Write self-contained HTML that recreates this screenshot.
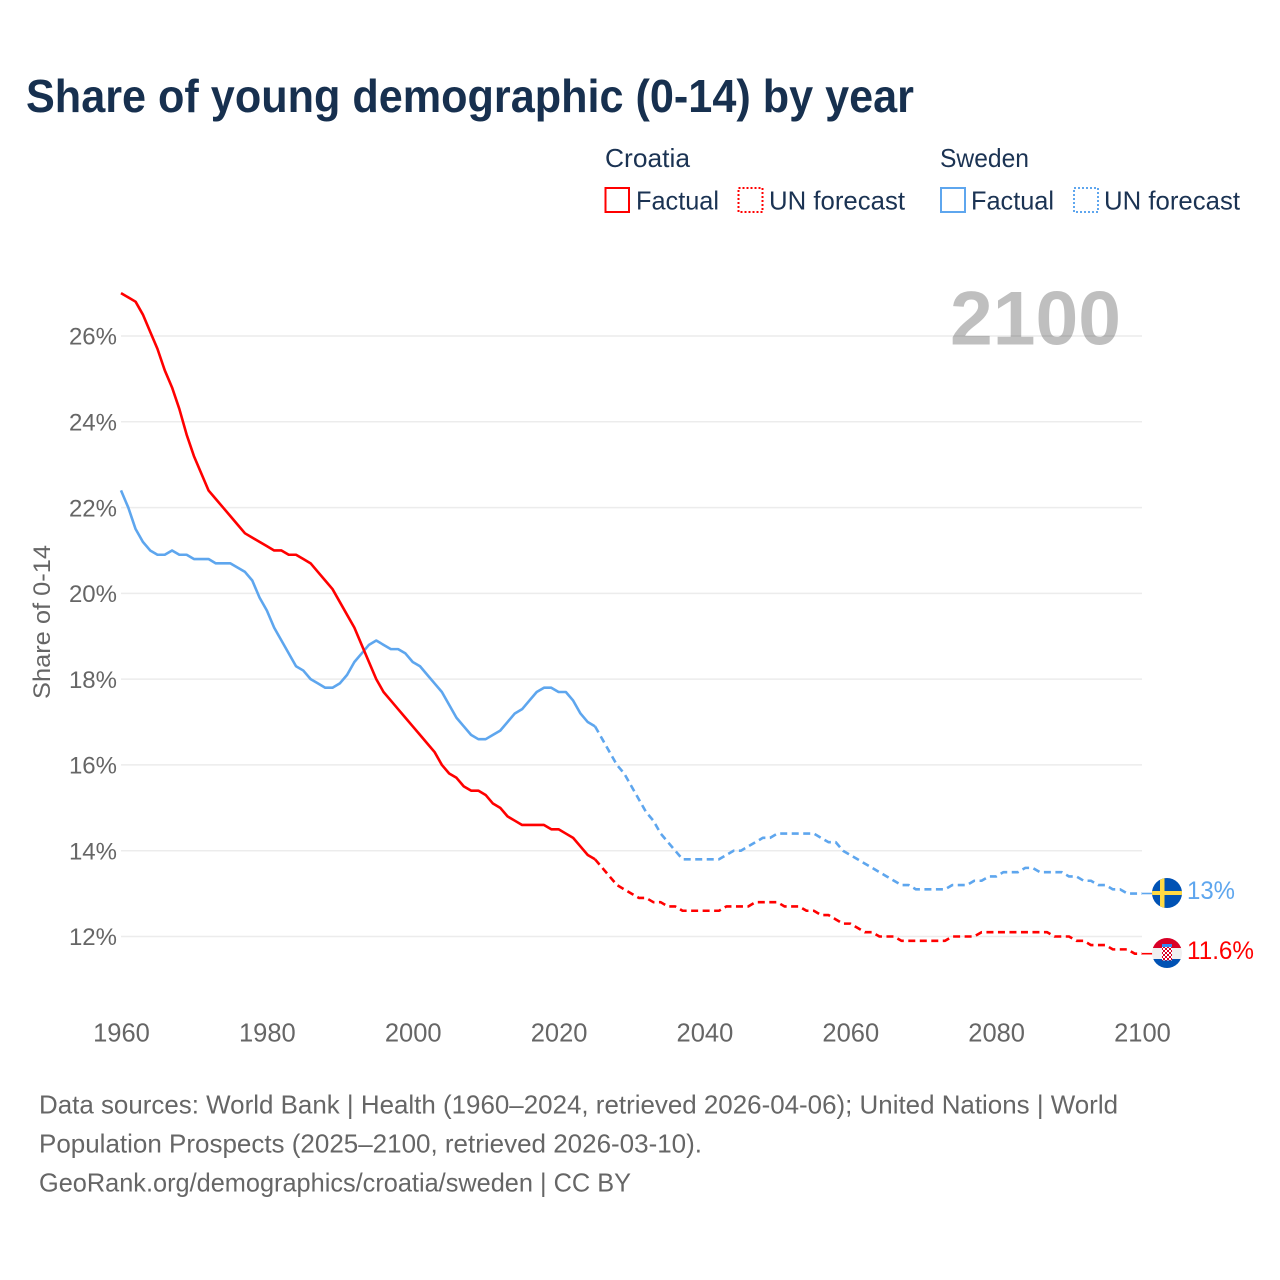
<!DOCTYPE html>
<html lang="en">
<head>
<meta charset="utf-8">
<title>Share of young demographic (0-14) by year</title>
<style>
html,body{margin:0;padding:0;background:#fff;}
svg{display:block;font-family:"Liberation Sans",sans-serif;}
</style>
</head>
<body>
<svg id="chart" xmlns="http://www.w3.org/2000/svg" width="1280" height="1280" viewBox="0 0 1280 1280">
  <defs>
    <clipPath id="flag-clip-se"><circle cx="1167" cy="893" r="15"/></clipPath>
    <clipPath id="flag-clip-hr"><circle cx="1167" cy="953" r="15"/></clipPath>
    <pattern id="checker" width="4" height="4" patternUnits="userSpaceOnUse" x="1163" y="946">
      <rect width="4" height="4" fill="#fff"/>
      <rect width="2" height="2" fill="#d80027"/>
      <rect x="2" y="2" width="2" height="2" fill="#d80027"/>
    </pattern>
  </defs>
  <rect width="1280" height="1280" fill="#fff"/>
  <text x="26" y="112" font-size="46" font-weight="700" fill="#17304f" textLength="888" lengthAdjust="spacingAndGlyphs">Share of young demographic (0-14) by year</text>

  <g font-size="26" fill="#1b3353">
    <text x="605" y="167" textLength="85" lengthAdjust="spacingAndGlyphs">Croatia</text>
    <text x="940" y="167" textLength="89" lengthAdjust="spacingAndGlyphs">Sweden</text>
    <rect x="605.5" y="188" width="23.5" height="24" fill="none" stroke="#ff0000" stroke-width="2"/>
    <text x="636" y="209.5" textLength="83" lengthAdjust="spacingAndGlyphs">Factual</text>
    <rect x="738.5" y="188" width="24" height="24" fill="none" stroke="#ff0000" stroke-width="2" stroke-dasharray="2 2"/>
    <text x="769" y="209.5" textLength="136" lengthAdjust="spacingAndGlyphs">UN forecast</text>
    <rect x="941" y="188" width="24" height="24" fill="none" stroke="#5ea6ee" stroke-width="2"/>
    <text x="971" y="209.5" textLength="83" lengthAdjust="spacingAndGlyphs">Factual</text>
    <rect x="1074" y="188" width="24" height="24" fill="none" stroke="#5ea6ee" stroke-width="2" stroke-dasharray="2 2"/>
    <text x="1104" y="209.5" textLength="136" lengthAdjust="spacingAndGlyphs">UN forecast</text>
  </g>

  <g id="grid"></g>
  <text x="950" y="344.5" font-size="76" font-weight="700" fill="#000" fill-opacity="0.25" textLength="171" lengthAdjust="spacingAndGlyphs">2100</text>
  <g id="y-ticks"></g>
  <g id="x-ticks"></g>
  <text transform="translate(50,622) rotate(-90)" text-anchor="middle" font-size="24" fill="#666" textLength="154" lengthAdjust="spacingAndGlyphs">Share of 0-14</text>
  <g id="series"></g>

  <line x1="1142" y1="893.5" x2="1153" y2="893.5" stroke="#5ea6ee" stroke-width="1.6"/>
  <line x1="1142" y1="953.7" x2="1153" y2="953.7" stroke="#ff0000" stroke-width="1.6"/>

  <g clip-path="url(#flag-clip-se)">
    <rect x="1152" y="878" width="30" height="30" fill="#0052b4"/>
    <rect x="1160" y="878" width="4.5" height="30" fill="#ffda44"/>
    <rect x="1152" y="891" width="30" height="4" fill="#ffda44"/>
  </g>
  <g clip-path="url(#flag-clip-hr)">
    <rect x="1152" y="938" width="30" height="10" fill="#d80027"/>
    <rect x="1152" y="948" width="30" height="11" fill="#f0f0f0"/>
    <rect x="1152" y="959" width="30" height="9" fill="#0052b4"/>
    <rect x="1162" y="944" width="10" height="3" fill="#338af3"/>
    <rect x="1162" y="947" width="10" height="13.5" fill="url(#checker)"/>
  </g>
  <text x="1187" y="899" font-size="25" fill="#5ea6ee" textLength="48" lengthAdjust="spacingAndGlyphs">13%</text>
  <text x="1187" y="959" font-size="25" fill="#ff0000" textLength="67" lengthAdjust="spacingAndGlyphs">11.6%</text>

  <g font-size="26" fill="#666">
    <text x="39" y="1113.5" textLength="1079" lengthAdjust="spacingAndGlyphs">Data sources: World Bank | Health (1960–2024, retrieved 2026-04-06); United Nations | World</text>
    <text x="39" y="1152.5" textLength="663" lengthAdjust="spacingAndGlyphs">Population Prospects (2025–2100, retrieved 2026-03-10).</text>
    <text x="39" y="1191.5" textLength="592" lengthAdjust="spacingAndGlyphs">GeoRank.org/demographics/croatia/sweden | CC BY</text>
  </g>
</svg>
<script>
const yTickValues = [12, 14, 16, 18, 20, 22, 24, 26];
const xTickYears = [1960, 1980, 2000, 2020, 2040, 2060, 2080, 2100];
const factualStartYear = 1960;
const forecastStartYear = 2025;
const croatiaFactual = [27.0,26.9,26.8,26.5,26.1,25.7,25.2,24.8,24.3,23.7,23.2,22.8,22.4,22.2,22.0,21.8,21.6,21.4,21.3,21.2,21.1,21.0,21.0,20.9,20.9,20.8,20.7,20.5,20.3,20.1,19.8,19.5,19.2,18.8,18.4,18.0,17.7,17.5,17.3,17.1,16.9,16.7,16.5,16.3,16.0,15.8,15.7,15.5,15.4,15.4,15.3,15.1,15.0,14.8,14.7,14.6,14.6,14.6,14.6,14.5,14.5,14.4,14.3,14.1,13.9,13.8];
const croatiaForecast = [13.8,13.6,13.4,13.2,13.1,13.0,12.9,12.9,12.8,12.8,12.7,12.7,12.6,12.6,12.6,12.6,12.6,12.6,12.7,12.7,12.7,12.7,12.8,12.8,12.8,12.8,12.7,12.7,12.7,12.6,12.6,12.5,12.5,12.4,12.3,12.3,12.2,12.1,12.1,12.0,12.0,12.0,11.9,11.9,11.9,11.9,11.9,11.9,11.9,12.0,12.0,12.0,12.0,12.1,12.1,12.1,12.1,12.1,12.1,12.1,12.1,12.1,12.1,12.0,12.0,12.0,11.9,11.9,11.8,11.8,11.8,11.7,11.7,11.7,11.6,11.6];
const swedenFactual = [22.4,22.0,21.5,21.2,21.0,20.9,20.9,21.0,20.9,20.9,20.8,20.8,20.8,20.7,20.7,20.7,20.6,20.5,20.3,19.9,19.6,19.2,18.9,18.6,18.3,18.2,18.0,17.9,17.8,17.8,17.9,18.1,18.4,18.6,18.8,18.9,18.8,18.7,18.7,18.6,18.4,18.3,18.1,17.9,17.7,17.4,17.1,16.9,16.7,16.6,16.6,16.7,16.8,17.0,17.2,17.3,17.5,17.7,17.8,17.8,17.7,17.7,17.5,17.2,17.0,16.9];
const swedenForecast = [16.9,16.6,16.3,16.0,15.8,15.5,15.2,14.9,14.7,14.4,14.2,14.0,13.8,13.8,13.8,13.8,13.8,13.8,13.9,14.0,14.0,14.1,14.2,14.3,14.3,14.4,14.4,14.4,14.4,14.4,14.4,14.3,14.2,14.2,14.0,13.9,13.8,13.7,13.6,13.5,13.4,13.3,13.2,13.2,13.1,13.1,13.1,13.1,13.1,13.2,13.2,13.2,13.3,13.3,13.4,13.4,13.5,13.5,13.5,13.6,13.6,13.5,13.5,13.5,13.5,13.4,13.4,13.3,13.3,13.2,13.2,13.1,13.1,13.0,13.0,13.0];

const NS = 'http://www.w3.org/2000/svg';
const xScale = function (year) { return 121 + (year - 1960) * (1142 - 121) / 140; };
const yScale = function (value) { return 936.5 - (value - 12) * (936.5 - 336) / 14; };

const gridGroup = document.getElementById('grid');
const yTickGroup = document.getElementById('y-ticks');
yTickValues.forEach(function (value) {
  const line = document.createElementNS(NS, 'line');
  
  
  line.setAttribute('x1', xScale(1960));
  line.setAttribute('x2', xScale(2100));
  line.setAttribute('y1', yScale(value));
  line.setAttribute('y2', yScale(value));
  line.setAttribute('stroke', '#ececec');
  line.setAttribute('stroke-width', '1.5');
  gridGroup.appendChild(line);
  const label = document.createElementNS(NS, 'text');
  
  
  label.setAttribute('x', 117);
  label.setAttribute('y', yScale(value) + 8.7);
  label.setAttribute('text-anchor', 'end');
  label.setAttribute('font-size', '24');
  label.setAttribute('fill', '#666');
  label.textContent = value + '%';
  yTickGroup.appendChild(label);
});

const xTickGroup = document.getElementById('x-ticks');
xTickYears.forEach(function (year) {
  const label = document.createElementNS(NS, 'text');
  
  
  label.setAttribute('x', xScale(year) + 0.5);
  label.setAttribute('y', 1041.5);
  label.setAttribute('text-anchor', 'middle');
  label.setAttribute('font-size', '25.5');
  label.setAttribute('fill', '#666');
  label.textContent = year;
  xTickGroup.appendChild(label);
});

const seriesGroup = document.getElementById('series');
function drawLine(values, startYear, color, dashed, name) {
  const path = document.createElementNS(NS, 'path');
  const d = values.map(function (value, i) {
    return (i === 0 ? 'M' : 'L') + xScale(startYear + i).toFixed(2) + ' ' + yScale(value).toFixed(2);
  }).join(' ');
  path.setAttribute('d', d);
  
  
  path.setAttribute('fill', 'none');
  path.setAttribute('stroke', color);
  path.setAttribute('stroke-width', '2.6');
  path.setAttribute('stroke-linejoin', 'round');
  if (dashed) {
    path.setAttribute('stroke-dasharray', '7 4.5');
  }
  seriesGroup.appendChild(path);
}
drawLine(swedenFactual, factualStartYear, '#5ea6ee', false, 'sweden-factual-line');
drawLine(swedenForecast, forecastStartYear, '#5ea6ee', true, 'sweden-forecast-line');
drawLine(croatiaFactual, factualStartYear, '#ff0000', false, 'croatia-factual-line');
drawLine(croatiaForecast, forecastStartYear, '#ff0000', true, 'croatia-forecast-line');
</script>
</body>
</html>
